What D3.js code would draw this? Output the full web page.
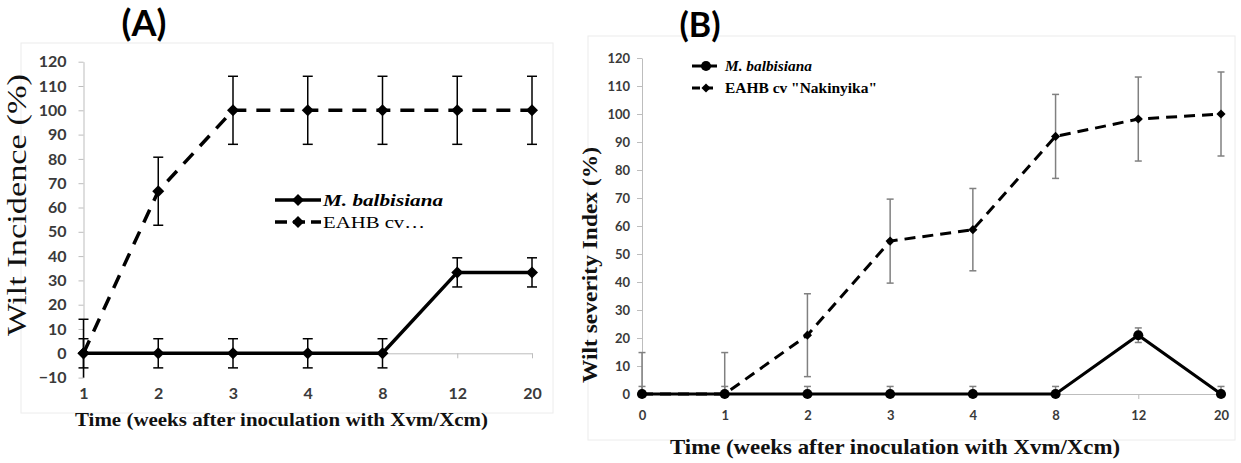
<!DOCTYPE html>
<html>
<head>
<meta charset="utf-8">
<script src="https://cdn.jsdelivr.net/npm/d3@7"></script>
<style>
  body { margin: 0; background: #fff; }
</style>
</head>
<body>
<svg width="1241" height="463"></svg>
<script>
// panel A: wilt incidence
var weeksA = ["1", "2", "3", "4", "8", "12", "20"];
var balbA = [0, 0, 0, 0, 0, 33.3, 33.3];
var balbErrA = [6, 6, 6, 6, 6, 6, 6];
var eahbA = [0, 66.7, 100, 100, 100, 100, 100];
var eahbErrA = [14, 14, 14, 14, 14, 14, 14];
var yTicksA = [-10, 0, 10, 20, 30, 40, 50, 60, 70, 80, 90, 100, 110, 120];

// panel B: wilt severity index
var weeksB = ["0", "1", "2", "3", "4", "8", "12", "20"];
var balbB = [0, 0, 0, 0, 0, 0, 21, 0];
var balbErrB = [2.7, 2.7, 2.7, 2.7, 2.7, 2.7, 2.6, 2.7];
var eahbB = [0, 0, 21, 54.6, 58.7, 92, 98.2, 100];
var eahbErrB = [14.8, 14.8, 14.8, 15, 14.7, 15, 15, 15];
var yTicksB = [0, 10, 20, 30, 40, 50, 60, 70, 80, 90, 100, 110, 120];

var svg = d3.select("svg");
svg.append("rect").attr("width", 1241).attr("height", 463).attr("fill", "#fff");

var diamond = {
  draw: function(ctx, size) {
    var r = Math.sqrt(size / 2);
    ctx.moveTo(0, -r); ctx.lineTo(r, 0); ctx.lineTo(0, r); ctx.lineTo(-r, 0); ctx.closePath();
  }
};

function panel(o) {
  var g = svg.append("g");

  g.append("rect")
    .attr("x", o.frame[0]).attr("y", o.frame[1])
    .attr("width", o.frame[2]).attr("height", o.frame[3])
    .attr("fill", "none").attr("stroke", "#ececec");

  var x = d3.scalePoint().domain(o.cats).range(o.xr);
  var y = d3.scaleLinear().domain(o.yd).range(o.yr);

  var ya = g.append("g")
    .attr("transform", "translate(" + o.xr[0] + ",0)")
    .call(d3.axisLeft(y).tickValues(o.yt).tickSize(5).tickSizeOuter(0).tickPadding(o.yPad));
  var xa = g.append("g")
    .attr("transform", "translate(0," + y(0) + ")")
    .call(d3.axisBottom(x).tickSize(5).tickSizeOuter(0).tickPadding(o.xPad));

  [ya, xa].forEach(function(a) {
    a.select(".domain").attr("stroke", "#bdbdbd");
    a.selectAll(".tick line").attr("stroke", "#bdbdbd");
    a.selectAll("text")
      .attr("font-family", "Lato, 'Open Sans', sans-serif")
      .attr("font-weight", "bold")
      .attr("font-size", o.tickFont)
      .attr("fill", "#3a3a3a");
  });

  o.series.forEach(function(s) {
    var pts = o.cats.map(function(c, i) { return { c: c, v: s.values[i], e: s.err[i] }; });

    // error bars
    var eb = g.append("g").attr("stroke", o.errColor).attr("stroke-width", 1.5).attr("fill", "none");
    pts.forEach(function(p) {
      var hi = Math.min(p.v + p.e, o.yd[1]), lo = Math.max(p.v - p.e, o.yd[0]);
      var cx = x(p.c);
      eb.append("line").attr("x1", cx).attr("x2", cx).attr("y1", y(hi)).attr("y2", y(lo));
      eb.append("line").attr("x1", cx - o.cap).attr("x2", cx + o.cap).attr("y1", y(hi)).attr("y2", y(hi));
      if (p.v - p.e >= o.yd[0])
        eb.append("line").attr("x1", cx - o.cap).attr("x2", cx + o.cap).attr("y1", y(lo)).attr("y2", y(lo));
    });

    var line = d3.line().x(function(d) { return x(d.c); }).y(function(d) { return y(d.v); });
    g.append("path").datum(pts)
      .attr("d", line)
      .attr("fill", "none")
      .attr("stroke", "#000")
      .attr("stroke-width", o.lineW)
      .attr("stroke-dasharray", s.dash);

    g.selectAll(null).data(pts).enter().append("path")
      .attr("transform", function(d) { return "translate(" + x(d.c) + "," + y(d.v) + ")"; })
      .attr("d", d3.symbol().type(s.shape).size(s.size))
      .attr("fill", "#000");

    // legend entry
    var l = s.legend;
    g.append("line")
      .attr("x1", l.x1).attr("x2", l.x2).attr("y1", l.y).attr("y2", l.y)
      .attr("stroke", "#000").attr("stroke-width", o.lineW)
      .attr("stroke-dasharray", s.dash ? l.dash : null);
    g.append("path")
      .attr("transform", "translate(" + l.m + "," + l.y + ")")
      .attr("d", d3.symbol().type(s.shape).size(s.size))
      .attr("fill", "#000");
    g.append("text")
      .attr("x", l.tx).attr("y", l.y + l.fs * 0.33)
      .attr("font-family", "'Liberation Serif', 'Times New Roman', serif")
      .attr("font-size", l.fs)
      .attr("font-weight", l.weight)
      .attr("font-style", l.style)
      .attr("textLength", l.len)
      .attr("lengthAdjust", "spacingAndGlyphs")
      .text(s.name);
  });

  g.append("text")
    .attr("x", o.title.x).attr("y", o.title.y)
    .attr("text-anchor", "middle")
    .attr("font-family", "Lato, 'Open Sans', sans-serif")
    .attr("font-weight", "bold")
    .attr("font-size", o.title.fs)
    .text(o.title.text);

  g.append("text")
    .attr("x", o.xl.x).attr("y", o.xl.y)
    .attr("font-family", "'Liberation Serif', 'Times New Roman', serif")
    .attr("font-weight", "bold")
    .attr("font-size", o.xl.fs)
    .attr("fill", "#111")
    .attr("textLength", o.xl.len)
    .attr("lengthAdjust", "spacingAndGlyphs")
    .text(o.xl.text);

  g.append("text")
    .attr("transform", "translate(" + o.yl.x + "," + o.yl.y + ") rotate(-90)")
    .attr("text-anchor", "middle")
    .attr("font-family", "'Liberation Serif', 'Times New Roman', serif")
    .attr("font-weight", o.yl.weight)
    .attr("font-size", o.yl.fs)
    .attr("fill", "#111")
    .attr("textLength", o.yl.len)
    .attr("lengthAdjust", "spacingAndGlyphs")
    .text(o.yl.text);
}

panel({
  frame: [21, 43, 532, 370],
  cats: weeksA, xr: [83.5, 532], yd: [-10, 120], yr: [377.6, 61.7], yt: yTicksA,
  tickFont: 16, yPad: 12, xPad: 29,
  errColor: "#000", cap: 5, lineW: 3.5,
  series: [
    { name: "EAHB cv\u2026", values: eahbA, err: eahbErrA, dash: "14,10", shape: diamond, size: 72,
      legend: { x1: 275, x2: 321, m: 298, y: 222, tx: 323, fs: 17, weight: "normal", style: "normal", len: 102, dash: "12,6" } },
    { name: "M. balbisiana", values: balbA, err: balbErrA, dash: null, shape: diamond, size: 72,
      legend: { x1: 275, x2: 321, m: 298, y: 200, tx: 323, fs: 17, weight: "bold", style: "italic", len: 120 } }
  ],
  title: { text: "(A)", x: 144, y: 36, fs: 36 },
  xl: { text: "Time (weeks after inoculation with Xvm/Xcm)", x: 75, y: 426, fs: 18, len: 413 },
  yl: { text: "Wilt Incidence (%)", x: 26, y: 205, fs: 28, weight: "normal", len: 262 }
});

panel({
  frame: [588, 36, 647, 404],
  cats: weeksB, xr: [642, 1221], yd: [0, 120], yr: [394, 58], yt: yTicksB,
  tickFont: 13, yPad: 7, xPad: 11.5,
  errColor: "#808080", cap: 3.5, lineW: 3,
  series: [
    { name: "EAHB cv \"Nakinyika\"", values: eahbB, err: eahbErrB, dash: "11,7", shape: diamond, size: 42,
      legend: { x1: 692, x2: 717, m: 706, y: 88, tx: 725, fs: 15, weight: "bold", style: "normal", len: 152, dash: "8,5" } },
    { name: "M. balbisiana", values: balbB, err: balbErrB, dash: null, shape: d3.symbolCircle, size: 80,
      legend: { x1: 692, x2: 717, m: 706, y: 66, tx: 725, fs: 15, weight: "bold", style: "italic", len: 87 } }
  ],
  title: { text: "(B)", x: 700, y: 37, fs: 34 },
  xl: { text: "Time (weeks after inoculation with Xvm/Xcm)", x: 670, y: 454, fs: 21, len: 450 },
  yl: { text: "Wilt severity Index (%)", x: 597, y: 265, fs: 21, weight: "bold", len: 236 }
});
</script>
</body>
</html>
